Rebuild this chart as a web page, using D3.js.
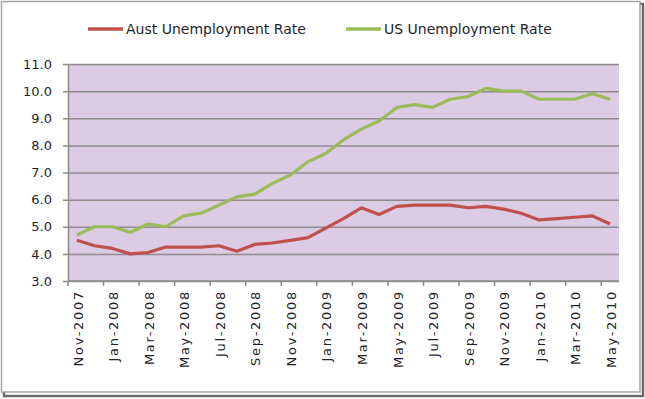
<!DOCTYPE html>
<html>
<head>
<meta charset="utf-8">
<script src="https://cdn.jsdelivr.net/npm/d3@7"></script>
<style>
  body { margin: 0; background: #fff; }
  svg text { font-family: "DejaVu Sans", Verdana, sans-serif; fill: #1f1f2a; }
</style>
</head>
<body>
<svg></svg>
<script>
'use strict';

const WIDTH = 645;
const HEIGHT = 399;

// Nov-2007 .. May-2010, monthly
var months = ["Nov-2007", "Dec-2007", "Jan-2008", "Feb-2008", "Mar-2008", "Apr-2008",
    "May-2008", "Jun-2008", "Jul-2008", "Aug-2008", "Sep-2008", "Oct-2008",
    "Nov-2008", "Dec-2008", "Jan-2009", "Feb-2009", "Mar-2009", "Apr-2009",
    "May-2009", "Jun-2009", "Jul-2009", "Aug-2009", "Sep-2009", "Oct-2009",
    "Nov-2009", "Dec-2009", "Jan-2010", "Feb-2010", "Mar-2010", "Apr-2010", "May-2010"];

var austRate = [4.5, 4.3, 4.2, 4.0, 4.05, 4.25, 4.25, 4.25, 4.3, 4.1, 4.35, 4.4,
    4.5, 4.6, 4.95, 5.3, 5.7, 5.45, 5.75, 5.8, 5.8, 5.8, 5.7, 5.75,
    5.65, 5.5, 5.25, 5.3, 5.35, 5.4, 5.1];

var usRate = [4.7, 5.0, 5.0, 4.8, 5.1, 5.0, 5.4, 5.5, 5.8, 6.1, 6.2, 6.6,
    6.9, 7.4, 7.7, 8.2, 8.6, 8.9, 9.4, 9.5, 9.4, 9.7, 9.8, 10.1,
    10.0, 10.0, 9.7, 9.7, 9.7, 9.9, 9.7];

var yTicks = [3, 4, 5, 6, 7, 8, 9, 10, 11];

var seriesNames = ["Aust Unemployment Rate", "US Unemployment Rate"];
var seriesColors = ["#c0504d", "#9bbb59"];

var plot = {left: 68, right: 619, top: 64, bottom: 281};

var svg = d3.select("svg")
    .attr("width", WIDTH)
    .attr("height", HEIGHT);

// frame with a little drop shadow
svg.append("rect")
    .attr("x", 4).attr("y", 4)
    .attr("width", 639).attr("height", 392)
    .attr("fill", "none")
    .attr("stroke", "#6b6b6b")
    .attr("stroke-width", 2.5);
svg.append("rect")
    .attr("x", 1.5).attr("y", 1.5)
    .attr("width", 638.5).attr("height", 390.5)
    .attr("fill", "#fff")
    .attr("stroke", "#a6a6a6")
    .attr("stroke-width", 1.5);

var x = d3.scaleBand()
    .domain(months)
    .range([plot.left, plot.right]);

var y = d3.scaleLinear()
    .domain([3, 11])
    .range([plot.bottom, plot.top]);

function cx(m) {
    return x(m) + x.bandwidth() / 2;
}

// plot background
svg.append("rect")
    .attr("x", plot.left)
    .attr("y", plot.top)
    .attr("width", plot.right - plot.left)
    .attr("height", plot.bottom - plot.top)
    .attr("fill", "#dccbe5");

// y axis with gridlines
var yAxis = d3.axisLeft(y)
    .tickValues(yTicks)
    .tickFormat(d3.format(".1f"))
    .tickSizeInner(-(plot.right - plot.left))
    .tickSizeOuter(0)
    .tickPadding(16);

var gy = svg.append("g")
    .attr("transform", "translate(" + plot.left + ",0)")
    .call(yAxis);
gy.select(".domain").attr("stroke", "#8c8c8c").attr("stroke-width", 1.5);
gy.selectAll(".tick line")
    .attr("x1", -5)
    .attr("stroke", "#8c8c8c")
    .attr("stroke-width", 1.5);
gy.selectAll(".tick text")
    .attr("font-size", 13)
    .attr("fill", "#1f1f2a");

// x axis: ticks every 2 categories, labels every 2 categories
var tickIdx = d3.range(0, months.length, 2);

var gx = svg.append("g");
gx.append("line")
    .attr("x1", plot.left).attr("x2", plot.right)
    .attr("y1", plot.bottom).attr("y2", plot.bottom)
    .attr("stroke", "#8c8c8c")
    .attr("stroke-width", 1.5);
gx.selectAll(".xtick")
    .data(tickIdx)
    .enter()
    .append("line")
    .attr("class", "xtick")
    .attr("x1", function (i) { return x(months[i]); })
    .attr("x2", function (i) { return x(months[i]); })
    .attr("y1", plot.bottom)
    .attr("y2", plot.bottom + 5)
    .attr("stroke", "#8c8c8c")
    .attr("stroke-width", 1.5);
gx.selectAll(".xlabel")
    .data(tickIdx)
    .enter()
    .append("text")
    .attr("class", "xlabel")
    .attr("transform", function (i) {
        return "translate(" + (cx(months[i]) + 1) + "," + (plot.bottom + 9) + ") rotate(-90)";
    })
    .attr("dy", "0.36em")
    .attr("text-anchor", "end")
    .attr("font-size", 13)
    .attr("letter-spacing", "1.7px")
    .text(function (i) { return months[i]; });

// lines
var line = d3.line()
    .x(function (d) { return cx(d.m); })
    .y(function (d) { return y(d.v); });

[austRate, usRate].forEach(function (values, s) {
    var pts = months.map(function (m, i) { return {m: m, v: values[i]}; });
    svg.append("path")
        .datum(pts)
        .attr("d", line)
        .attr("fill", "none")
        .attr("stroke", seriesColors[s])
        .attr("stroke-width", 3.2)
        .attr("stroke-linejoin", "round");
});

// legend
var legendX = [88, 346];
var legend = svg.selectAll(".legend")
    .data(seriesNames)
    .enter()
    .append("g")
    .attr("class", "legend")
    .attr("transform", function (d, i) { return "translate(" + legendX[i] + ",29)"; });
legend.append("line")
    .attr("x1", 0).attr("x2", 35)
    .attr("stroke", function (d, i) { return seriesColors[i]; })
    .attr("stroke-width", 3.5);
legend.append("text")
    .attr("x", 38)
    .attr("dy", "0.36em")
    .attr("font-size", 14)
    .text(function (d) { return d; });
</script>
</body>
</html>
